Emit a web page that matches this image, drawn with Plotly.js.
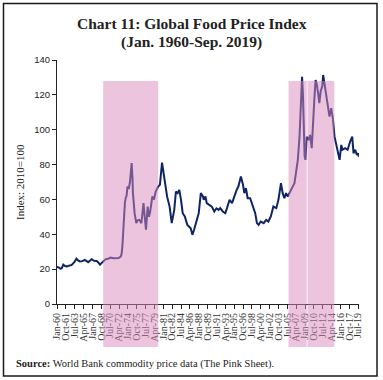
<!DOCTYPE html>
<html>
<head>
<meta charset="utf-8">
<script src="https://cdn.plot.ly/plotly-3.0.1.min.js"></script>
<style>
html,body{margin:0;padding:0;background:#fff;}
#chart{width:383px;height:380px;}
</style>
</head>
<body>
<div id="chart"></div>
<script>
// ---- data ----
var dates = [
'1960-01','1960-05','1960-09','1960-12','1961-04','1961-08','1961-12','1962-06','1962-12','1963-06',
'1963-11','1964-03','1964-07','1965-01','1965-07','1966-03','1966-11','1967-05','1967-11','1968-03',
'1968-07','1968-11','1969-03','1969-08','1970-02','1970-08','1971-03','1971-09','1972-03','1972-08',
'1972-10','1972-12','1973-02','1973-04','1973-06','1973-08','1973-10','1973-12','1974-03','1974-06',
'1974-08','1974-10','1974-12','1975-01','1975-05','1975-09','1975-12','1976-04','1976-09','1977-02',
'1977-05','1977-08','1977-12','1978-03','1978-06','1978-11','1979-03','1979-07','1980-01','1980-05',
'1980-10','1981-04','1981-10','1982-04','1982-09','1983-03','1983-07','1983-11','1984-03','1984-07',
'1984-11','1985-04','1985-10','1986-06','1986-10','1987-02','1987-07','1988-01','1988-06','1988-11',
'1989-01','1989-05','1989-08','1990-03','1990-08','1991-02','1991-07','1991-12','1992-04','1992-10',
'1993-04','1993-08','1994-02','1994-08','1995-01','1995-07','1995-11','1996-05','1996-10','1997-01',
'1997-05','1997-09','1998-03','1998-09','1999-03','1999-07','1999-11','2000-04','2000-11','2001-05',
'2001-10','2002-04','2002-10','2003-05','2003-10','2004-04','2004-08','2004-12','2005-04','2005-08',
'2006-02','2006-08','2006-12','2007-04','2007-08','2007-12','2008-04','2008-06','2008-08','2008-10',
'2008-12','2009-02','2009-05','2009-10','2010-01','2010-05','2010-07','2010-11','2011-02','2011-05',
'2011-08','2011-11','2012-02','2012-06','2012-08','2013-02','2013-07','2013-11','2014-03','2014-07',
'2014-11','2015-03','2015-07','2015-11','2016-03','2016-06','2016-12','2017-06','2017-12','2018-05',
'2018-08','2018-12','2019-04','2019-07','2019-09'
];
var foodIndex = [
21.2,21.0,20.3,20.4,22.6,21.8,21.6,21.8,22.4,24.0,
26.0,25.0,24.4,24.6,25.3,24.0,25.7,24.8,24.7,23.8,
22.5,23.6,24.5,25.6,26.0,26.6,26.2,26.5,26.4,27.2,
28.5,33.0,45.0,52.0,58.0,61.0,62.0,67.4,66.0,70.0,
76.0,80.8,72.0,63.6,52.1,46.4,48.0,48.3,46.4,57.9,
50.0,42.6,55.9,50.0,53.1,61.7,60.0,64.5,67.4,68.4,
81.1,71.2,61.7,55.9,46.4,54.0,64.5,63.6,65.5,59.8,
52.1,50.2,45.4,43.5,39.7,42.6,46.4,52.1,63.6,61.7,
59.8,61.7,57.9,56.9,55.9,53.1,54.9,54.0,55.0,53.1,
52.1,55.0,59.8,57.9,61.7,65.5,67.4,73.1,68.4,63.6,
66.5,60.7,60.7,55.9,52.1,46.4,45.4,47.3,46.4,48.3,
47.3,50.2,55.9,55.0,59.8,69.3,63.6,60.7,63.6,61.7,
64.5,67.4,69.3,76.0,82.7,96.0,115.2,130.4,121.0,100.0,
85.0,82.7,96.0,94.1,97.0,89.4,101.8,117.0,128.5,126.0,
121.0,115.2,122.0,125.0,131.4,121.0,115.2,107.5,112.3,106.6,
96.0,92.2,87.4,82.7,91.3,88.5,89.4,88.5,93.2,96.0,
86.5,88.5,85.5,86.5,84.5
];
var tickLabels = ['Jan-60','Oct-61','Jul-63','Apr-65','Jan-67','Oct-68','Jul-70','Apr-72','Jan-74','Oct-75',
'Jul-77','Apr-79','Jan-81','Oct-82','Jul-84','Apr-86','Jan-88','Oct-89','Jul-91','Apr-93',
'Jan-95','Oct-96','Jul-98','Apr-00','Jan-02','Oct-03','Jul-05','Apr-07','Jan-09','Oct-10',
'Jul-12','Apr-14','Jan-16','Oct-17','Jul-19'];
// shaded periods (start, end)
var shadeStart = ['1969-02-15','2005-10-01','2009-07-01'];
var shadeEnd   = ['1980-01-01','2009-05-01','2014-10-15'];

// ---- build ----
var monNum = {Jan:'01',Feb:'02',Mar:'03',Apr:'04',May:'05',Jun:'06',Jul:'07',Aug:'08',Sep:'09',Oct:'10',Nov:'11',Dec:'12'};
var tickVals = tickLabels.map(function(l){
  var p = l.split('-'); var yy = parseInt(p[1],10);
  var yr = yy >= 50 ? 1900 + yy : 2000 + yy;
  return yr + '-' + monNum[p[0]] + '-01';
});

var M = {l:57, r:24, t:60, b:76};
var W = 383, H = 380;
var pw = W - M.l - M.r, ph = H - M.t - M.b;
function px2x(px){ return (px - M.l) / pw; }
function px2y(py){ return (H - M.b - py) / ph; }

var shapes = [];
for (var i = 0; i < shadeStart.length; i++) {
  shapes.push({type:'rect', xref:'x', yref:'paper', x0:shadeStart[i], x1:shadeEnd[i],
    y0:px2y(347), y1:px2y(81), fillcolor:'#d98abd', opacity:0.5, line:{width:0}, layer:'above'});
}
shapes.push({type:'rect', xref:'paper', yref:'paper', x0:px2x(3.5), x1:px2x(377), y0:px2y(376), y1:px2y(3.5),
  line:{color:'#1a1a1a', width:1.5}, fillcolor:'rgba(0,0,0,0)', layer:'above'});

var trace = {
  x: dates, y: foodIndex, type:'scatter', mode:'lines',
  line:{color:'#0f2466', width:2}, hoverinfo:'skip'
};

var layout = {
  width: W, height: H,
  margin: M,
  paper_bgcolor:'#fff', plot_bgcolor:'#fff',
  showlegend:false,
  xaxis:{
    type:'date', range:['1960-01-01','2019-09-01'],
    tickmode:'array', tickvals:tickVals, ticktext:tickLabels,
    tickangle:-90, ticks:'outside', ticklen:4, tickcolor:'#222', tickwidth:1,
    showline:true, linecolor:'#222', linewidth:1, showgrid:false, zeroline:false,
    tickfont:{family:'Liberation Serif, serif', size:10, color:'#333'}
  },
  yaxis:{
    range:[0,140], dtick:20, tick0:0, ticks:'outside', ticklen:4, tickcolor:'#222',
    showline:true, linecolor:'#222', linewidth:1, showgrid:false, zeroline:false,
    tickfont:{family:'Liberation Sans, sans-serif', size:9.5, color:'#222'}
  },
  shapes: shapes,
  annotations:[
    {text:'<b>Chart 11: Global Food Price Index</b>', xref:'paper', yref:'paper', x:px2x(191.5), y:px2y(23),
     xanchor:'center', yanchor:'middle', showarrow:false,
     font:{family:'Liberation Serif, serif', size:15.5, color:'#222'}},
    {text:'<b>(Jan. 1960-Sep. 2019)</b>', xref:'paper', yref:'paper', x:px2x(191.5), y:px2y(42),
     xanchor:'center', yanchor:'middle', showarrow:false,
     font:{family:'Liberation Serif, serif', size:15.5, color:'#222'}},
    {text:'Index: 2010=100', xref:'paper', yref:'paper', x:px2x(20), y:0.5, xanchor:'center', yanchor:'middle',
     textangle:-90, showarrow:false, font:{family:'Liberation Serif, serif', size:11, color:'#222'}},
    {text:'<b>Source:</b> World Bank commodity price data (The Pink Sheet).', xref:'paper', yref:'paper',
     x:px2x(14), y:px2y(364), xanchor:'left', yanchor:'middle', showarrow:false,
     font:{family:'Liberation Serif, serif', size:10.5, color:'#222'}}
  ]
};

Plotly.newPlot('chart', [trace], layout, {displayModeBar:false, staticPlot:true});
</script>
</body>
</html>
